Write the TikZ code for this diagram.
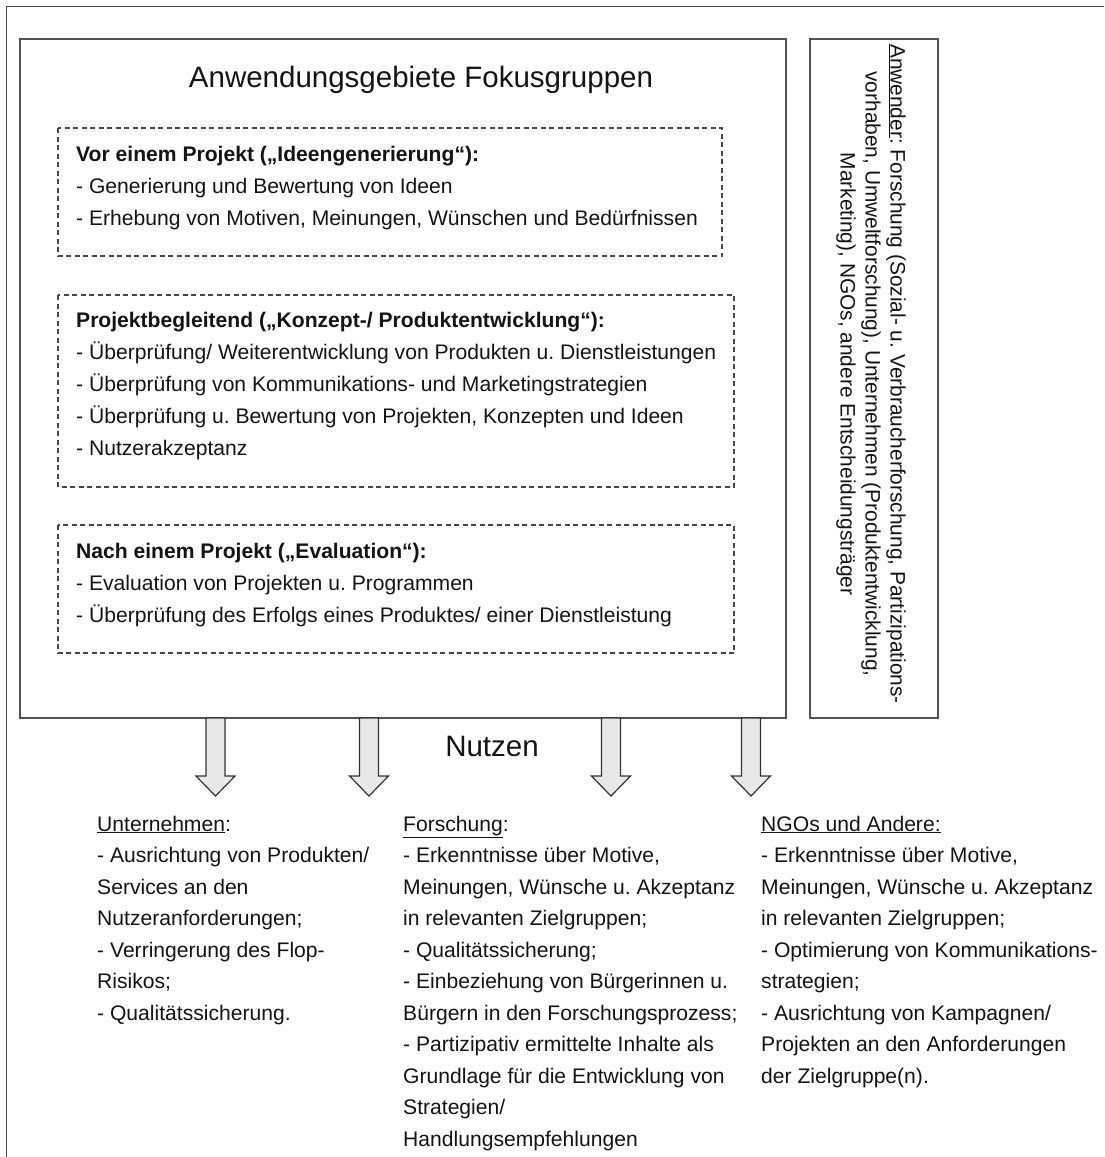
\documentclass[tikz,border=0pt]{standalone}
\usepackage{fontspec}
\setmainfont{Liberation Sans}
\frenchspacing
\newcommand\mylines[1]{\begin{tabular}[t]{@{}l@{}}#1\end{tabular}}
\begin{document}
\frenchspacing
\begin{tikzpicture}[x=1pt,y=-1pt,
  frame/.style={draw=black!72, line width=1.6pt},
  box/.style={draw=black!68, line width=1.3pt},
  dbox/.style={draw=black!72, line width=1.2pt, dash pattern=on 5pt off 3.5pt},
  body/.style={font=\fontsize{21.1}{32}\selectfont, inner sep=0pt, anchor=base west, text=black!92},
  lower/.style={font=\fontsize{21.1}{31.5}\selectfont, inner sep=0pt, anchor=base west, text=black!92},
  big/.style={font=\fontsize{29.5}{34}\selectfont, inner sep=0pt, anchor=base, text=black!92},
  blockarrow/.style={draw=black!80, line width=1.2pt, fill=black!9, line join=miter}
]
\useasboundingbox (0,0) rectangle (1104,1157);
\fill[white] (0,0) rectangle (1104,1157);

% outer frame (top and left edges visible)
\draw[frame] (6.5,1157) -- (6.5,6.5) -- (1104,6.5);

% main box and side box
\draw[box] (20,39) rectangle (786,718);
\draw[box] (810,39) rectangle (938,718);

\node[big] (title) at (421,87) {Anwendungsgebiete Fokusgruppen};

% dashed boxes
\draw[dbox] (58,128) rectangle (722,256);
\node[body] (vor) at (76,161) {\mylines{\textbf{Vor einem Projekt („Ideengenerierung“):}\\
- Generierung und Bewertung von Ideen\\
- Erhebung von Motiven, Meinungen, Wünschen und Bedürfnissen}};

\draw[dbox] (58,295) rectangle (734,487);
\node[body] (begl) at (76,327) {\mylines{\textbf{Projektbegleitend („Konzept-/ Produktentwicklung“):}\\
- Überprüfung/ Weiterentwicklung von Produkten u. Dienstleistungen\\
- Überprüfung von Kommunikations- und Marketingstrategien\\
- Überprüfung u. Bewertung von Projekten, Konzepten und Ideen\\
- Nutzerakzeptanz}};

\draw[dbox] (58,525) rectangle (734,653);
\node[body] (nach) at (76,558) {\mylines{\textbf{Nach einem Projekt („Evaluation“):}\\
- Evaluation von Projekten u. Programmen\\
- Überprüfung des Erfolgs eines Produktes/ einer Dienstleistung}};

% rotated side text
\node[font=\fontsize{20.9}{25}\selectfont, text=black!92, align=center, rotate=-90, inner sep=0pt] (anw) at (871,374)
  {\underline{Anwender}: Forschung (Sozial- u. Verbraucherforschung, Partizipations-\\
   vorhaben, Umweltforschung), Unternehmen (Produktentwicklung,\\
   Marketing), NGOs, andere Entscheidungsträger};

% block arrows
\foreach \c in {215.5,369,611,751}{
  \draw[blockarrow] (\c-9.5,718) -- (\c-9.5,776) -- (\c-19.5,776) -- (\c,796) -- (\c+19.5,776) -- (\c+9.5,776) -- (\c+9.5,718) -- cycle;
}

\node[big] (nutzen) at (492,756) {Nutzen};

% lower columns
\node[lower] (unt) at (97,831) {\mylines{\underline{Unternehmen}:\\
- Ausrichtung von Produkten/\\
Services an den\\
Nutzeranforderungen;\\
- Verringerung des Flop-\\
Risikos;\\
- Qualitätssicherung.}};

\node[lower] (for) at (403,831) {\mylines{\underline{Forschung}:\\
- Erkenntnisse über Motive,\\
Meinungen, Wünsche u. Akzeptanz\\
in relevanten Zielgruppen;\\
- Qualitätssicherung;\\
- Einbeziehung von Bürgerinnen u.\\
Bürgern in den Forschungsprozess;\\
- Partizipativ ermittelte Inhalte als\\
Grundlage für die Entwicklung von\\
Strategien/\\
Handlungsempfehlungen}};

\node[lower] (ngo) at (761,831) {\mylines{\underline{NGOs und Andere:}\\
- Erkenntnisse über Motive,\\
Meinungen, Wünsche u. Akzeptanz\\
in relevanten Zielgruppen;\\
- Optimierung von Kommunikations-\\
strategien;\\
- Ausrichtung von Kampagnen/\\
Projekten an den Anforderungen\\
der Zielgruppe(n).}};
\end{tikzpicture}
\end{document}
